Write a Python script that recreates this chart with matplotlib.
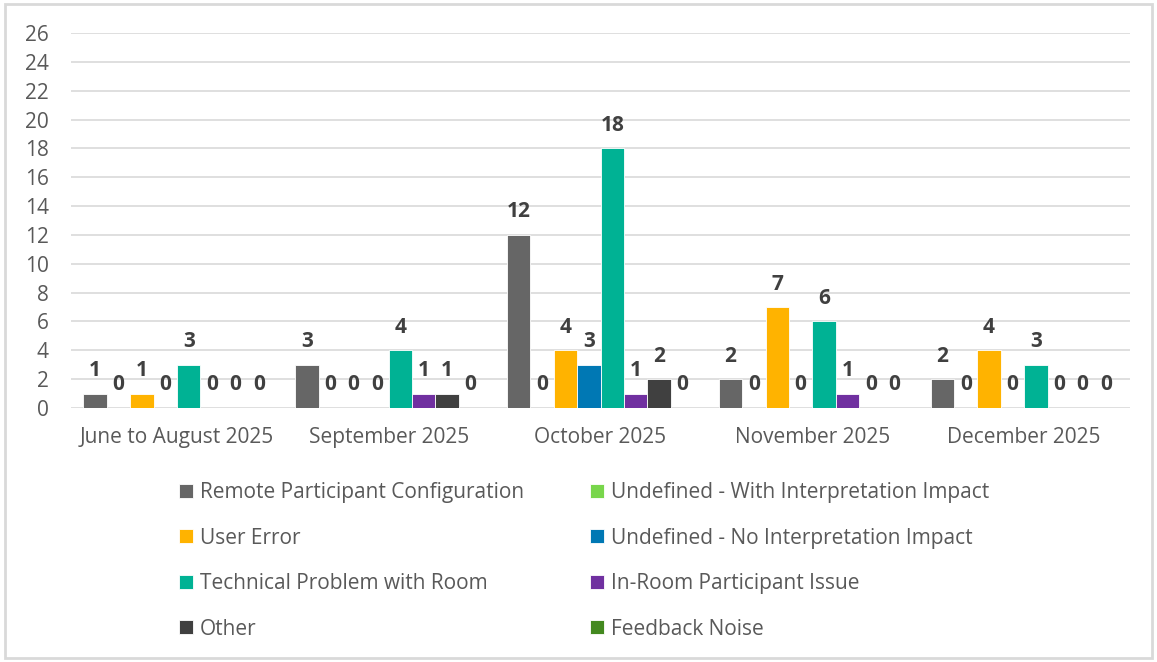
import matplotlib.pyplot as plt
import numpy as np
from matplotlib.patches import Rectangle

# data
months = ["June to August 2025", "September 2025", "October 2025",
          "November 2025", "December 2025"]
series = ["Remote Participant Configuration", "Undefined - With Interpretation Impact",
          "User Error", "Undefined - No Interpretation Impact",
          "Technical Problem with Room", "In-Room Participant Issue",
          "Other", "Feedback Noise"]
remote_config = [1, 3, 12, 2, 2]
undef_with_impact = [0, 0, 0, 0, 0]
user_error = [1, 0, 4, 7, 4]
undef_no_impact = [0, 0, 3, 0, 0]
tech_room = [3, 4, 18, 6, 3]
in_room = [0, 1, 1, 1, 0]
other = [0, 1, 2, 0, 0]
feedback_noise = [0, 0, 0, 0, 0]
colors = ["#666666", "#78d64b", "#ffb300", "#0078b4",
          "#00b294", "#7030a0", "#404040", "#43891f"]

values = [remote_config, undef_with_impact, user_error, undef_no_impact,
          tech_room, in_room, other, feedback_noise]

plt.rcParams['font.family'] = ['Open Sans', 'DejaVu Sans']

fig = plt.figure(figsize=(11.57, 6.62), dpi=100)
ax = fig.add_axes([0.0614, 0.3837, 0.9153, 0.5663])

n = len(series)
x = np.arange(len(months))
width = 0.883 / n
for i, (name, vals) in enumerate(zip(series, values)):
    pos = x - 0.883 / 2 + width * (i + 0.5)
    bars = ax.bar(pos, vals, width, color=colors[i], label=name,
                  edgecolor="white", linewidth=0.6)
    ax.bar_label(bars, padding=9, fontsize=15, fontweight="bold", color="#404040")

ax.set_xlim(-0.5, len(months) - 0.5)
ax.set_ylim(0, 26)
ax.set_yticks(range(0, 27, 2))
ax.set_xticks(x)
ax.set_xticklabels(months)
ax.tick_params(axis="both", length=0, labelsize=15, colors="#595959")
ax.tick_params(axis="y", pad=16)
ax.tick_params(axis="x", pad=14)
ax.grid(axis="y", color="#d9d9d9", linewidth=1.2)
ax.set_axisbelow(True)
for s in ax.spines.values():
    s.set_visible(False)

# legend: row-wise order in two columns
handles, labels = ax.get_legend_handles_labels()
order = [0, 2, 4, 6, 1, 3, 5, 7]
leg = fig.legend([handles[k] for k in order], [labels[k] for k in order],
                 ncol=2, loc="upper left", bbox_to_anchor=(0.155, 0.272),
                 frameon=False, fontsize=15, handlelength=0.67, handleheight=0.67,
                 handletextpad=0.3, labelspacing=1.18, columnspacing=3.2,
                 borderaxespad=0, borderpad=0)
for t in leg.get_texts():
    t.set_color("#595959")

fig.patches.append(Rectangle((0.004, 0.006), 0.992, 0.988, transform=fig.transFigure,
                             fill=False, edgecolor="#d9d9d9", linewidth=2))

fig.savefig("out.png", dpi=100)
